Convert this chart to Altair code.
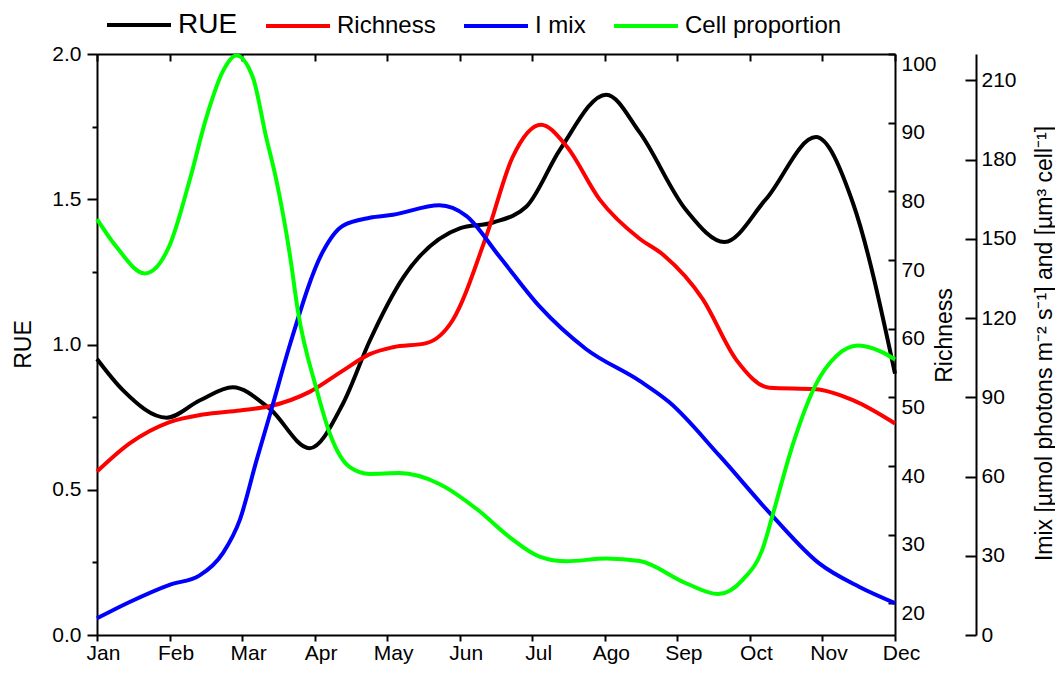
import altair as alt
import pandas as pd

FONT = "Liberation Sans"

months = ["Jan", "Feb", "Mar", "Apr", "May", "Jun", "Jul", "Ago", "Sep", "Oct", "Nov", "Dec"]
series_names = ["RUE", "Richness", "I mix", "Cell proportion"]
series_colors = ["#000000", "#ff0000", "#0000ff", "#00ff00"]

# month position (0 = Jan ... 11 = Dec) and values
rue_m = [0, 0.36, 0.96, 1.42, 1.87, 2.38, 2.93, 3.39, 3.76, 4.22, 5.0, 5.46, 5.92, 6.38, 7.02, 7.48, 8.12, 8.65, 9.22, 9.91, 10.42, 11]
rue_v = [0.95, 0.842, 0.748, 0.808, 0.853, 0.779, 0.643, 0.796, 1.013, 1.23, 1.40, 1.42, 1.475, 1.67, 1.86, 1.73, 1.463, 1.353, 1.50, 1.714, 1.487, 0.90]

rich_m = [0, 0.45, 1.0, 1.46, 1.97, 2.38, 2.93, 3.39, 3.76, 4.08, 4.54, 4.9, 5.37, 5.73, 6.12, 6.47, 6.93, 7.48, 7.8, 8.35, 8.81, 9.27, 9.91, 10.42, 11]
rich_v = [39.2, 43.3, 46.4, 47.5, 48.1, 48.7, 50.8, 53.9, 56.3, 57.3, 57.9, 61.2, 73.6, 85.0, 89.7, 86.6, 78.8, 73.1, 70.8, 64.3, 55.5, 51.4, 51.2, 49.6, 46.2]

imix_m = [0, 0.45, 1.0, 1.41, 1.74, 1.97, 2.2, 2.4, 2.66, 3.11, 3.39, 3.76, 4.08, 4.72, 5.09, 5.55, 6.1, 6.74, 7.48, 7.89, 8.58, 9.31, 9.96, 10.51, 11]
imix_v = [6.3, 12.5, 19, 22.5, 31.2, 43.7, 66.2, 85, 110, 145, 155, 158, 159.1, 162.7, 158.7, 143.2, 124.4, 108.3, 96.2, 88.1, 67.9, 45.1, 27, 18.2, 12.1]

cell_m = [0, 0.27, 0.66, 1.0, 1.28, 1.51, 1.74, 1.92, 2.15, 2.33, 2.47, 2.66, 2.77, 3.02, 3.21, 3.48, 3.76, 4.17, 4.72, 5.23, 5.69, 6.1, 6.47, 7.02, 7.48, 8.12, 8.56, 8.9, 9.18, 9.31, 9.59, 9.91, 10.19, 10.49, 10.83, 11]
cell_v = [157.5, 146.9, 136.9, 147.5, 172.5, 196.2, 213.7, 219.4, 211, 188.7, 172.5, 143.7, 122.6, 93.7, 76.2, 63.7, 61, 61.3, 57.2, 47.8, 37, 29.7, 27.9, 29, 28, 19.6, 15.5, 20.9, 33, 45.1, 72, 94.9, 105.6, 109.6, 107, 104.3]

rue_ticks = [0, 0.25, 0.5, 0.75, 1.0, 1.25, 1.5, 1.75, 2.0]
rich_ticks = [20, 30, 40, 50, 60, 70, 80, 90, 100]
imix_ticks = [0, 30, 60, 90, 120, 150, 180, 210]


def frame(name, ms, vs):
    return pd.DataFrame({"series": name, "m": ms, "v": vs})


df = pd.concat([
    frame("RUE", rue_m, rue_v),
    frame("Richness", rich_m, rich_v),
    frame("I mix", imix_m, imix_v),
    frame("Cell proportion", cell_m, cell_v),
], ignore_index=True)

month_expr = "[" + ",".join("'%s'" % s for s in months) + "][datum.value]"
xscale = alt.Scale(domain=[0, 11], nice=False, zero=False)

W, H = 798, 581

legend = alt.Legend(
    title=None, orient="none", legendX=8, legendY=-63, direction="horizontal",
    symbolType="stroke", symbolSize=4096, symbolStrokeWidth=4,
    labelFontSize={"expr": "datum.label == 'RUE' ? 28 : 24"},
    labelOffset=5, columnPadding=20, padding=0, labelColor="black", labelFont=FONT,
)
color = alt.Color("series:N", scale=alt.Scale(domain=series_names, range=series_colors), legend=legend)

base = alt.Chart(df).mark_line(strokeWidth=4, interpolate="monotone")

x_bottom = alt.X("m:Q", scale=xscale, axis=alt.Axis(
    orient="bottom", values=list(range(12)), labelExpr=month_expr, title=None,
    tickSize=6, labelPadding=1, labelOffset=6, labelFontSize=21, labelFlush=False,
    labelOverlap=False, domainWidth=2, tickWidth=2))
x_top = alt.X("m:Q", scale=xscale, axis=alt.Axis(
    orient="top", values=list(range(12)), labels=False, title=None,
    tickSize={"expr": "-7"}, domainWidth=2, tickWidth=2))
x_none = alt.X("m:Q", scale=xscale, axis=None)

rue = base.transform_filter(alt.datum.series == "RUE").encode(
    x=x_bottom,
    y=alt.Y("v:Q", scale=alt.Scale(domain=[0, 2], nice=False, zero=False), axis=alt.Axis(
        orient="left", values=rue_ticks,
        labelExpr="datum.value % 0.5 == 0 ? format(datum.value, '.1f') : ''",
        tickSize={"condition": {"test": "datum.value % 0.5 != 0", "value": 5}, "value": 10},
        labelPadding=6, labelFontSize=21, labelOverlap=False, labelFlush=False,
        title="RUE", titleFontSize=23, titleAngle=270, titleX=-74, titleY=290,
        titleAlign="center", titleBaseline="middle", domainWidth=2, tickWidth=2)),
    color=color,
)

rich = base.transform_filter(alt.datum.series == "Richness").encode(
    x=x_none,
    y=alt.Y("v:Q", scale=alt.Scale(domain=[15.4, 100], nice=False, zero=False), axis=alt.Axis(
        orient="right", values=rich_ticks, tickSize={"expr": "-7"},
        labelPadding=13, labelOffset=10, labelFontSize=21, labelOverlap=False, labelFlush=False,
        title="Richness", titleFontSize=23, titleAngle=270, titleX=49, titleY=281,
        titleAlign="center", titleBaseline="middle", domainWidth=2, tickWidth=2)),
    color=color,
)

imix = base.transform_filter(alt.datum.series == "I mix").encode(
    x=x_none,
    y=alt.Y("v:Q", scale=alt.Scale(domain=[0, 220], nice=False, zero=False), axis=alt.Axis(
        orient="right", offset=81, values=imix_ticks, tickSize={"expr": "-11"},
        labelPadding=16, labelFontSize=21, labelOverlap=False, labelFlush=False,
        title="Imix [µmol photons m⁻² s⁻¹] and  [µm³ cell⁻¹]", titleFontSize=23,
        titleAngle=270, titleX=68, titleY=289, titleAlign="center", titleBaseline="middle",
        domainWidth=2, tickWidth=2)),
    color=color,
)

cell = base.transform_filter(alt.datum.series == "Cell proportion").encode(
    x=x_top,
    y=alt.Y("v:Q", scale=alt.Scale(domain=[0, 220], nice=False, zero=False), axis=None),
    color=color,
)

chart = alt.layer(rue, rich, imix, cell).resolve_scale(
    y="independent"
).resolve_axis(
    x="independent", y="independent"
).properties(
    width=W, height=H,
    autosize=alt.AutoSizeParams(type="none"),
    padding={"left": 89, "top": 46, "right": 160, "bottom": 30},
).configure_view(
    stroke=None
).configure_axis(
    labelFont=FONT, titleFont=FONT, labelColor="black", titleColor="black",
    domainColor="black", tickColor="black", grid=False, titleFontWeight="normal",
).configure_legend(
    labelFont=FONT,
)

chart.save("out.html", embed_options={"renderer": "svg", "actions": False})
